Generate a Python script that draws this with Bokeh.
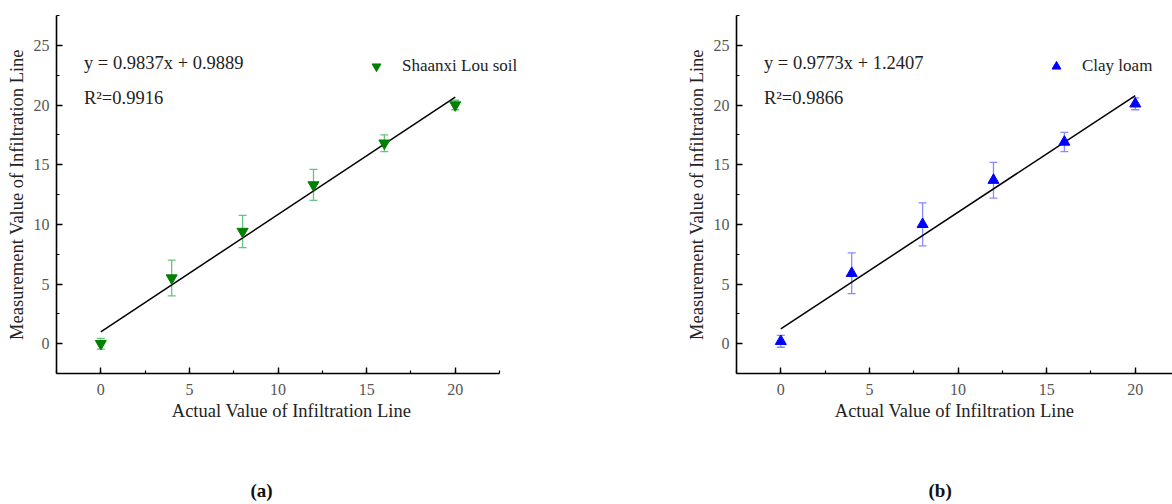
from bokeh.plotting import figure
from bokeh.models import (ColumnDataSource, Whisker, TeeHead, Label, Legend, LegendItem,
                          SingleIntervalTicker, Range1d, Title)
from bokeh.layouts import row
from bokeh.embed import file_html
from bokeh.resources import INLINE

# ---------------- data ----------------
actual = [0, 4, 8, 12, 16, 20]

lou_mean = [0.0, 5.5, 9.4, 13.3, 16.8, 20.0]
lou_err = [0.45, 1.5, 1.35, 1.3, 0.7, 0.4]
lou_fit_x = [0, 20]
lou_fit_y = [0.99, 20.66]
lou_eq = "y = 0.9837x + 0.9889"
lou_r2 = "R\u00b2=0.9916"
lou_name = "Shaanxi Lou soil"

clay_mean = [0.2, 5.9, 10.0, 13.7, 16.9, 20.1]
clay_err = [0.5, 1.7, 1.8, 1.5, 0.8, 0.5]
clay_fit_x = [0, 20]
clay_fit_y = [1.24, 20.79]
clay_eq = "y = 0.9773x + 1.2407"
clay_r2 = "R\u00b2=0.9866"
clay_name = "Clay loam"

x_label = "Actual Value of Infiltration Line"
y_label = "Measurement Value of Infiltration Line"

SERIF = "Liberation Serif"


def make_panel(mean, err, fit_x, fit_y, eq, r2, name, marker, color, err_color,
               caption, caption_offset, frame_w, x_end, border_right):
    p = figure(frame_width=frame_w, frame_height=358,
               x_range=Range1d(-2.5, x_end), y_range=Range1d(-2.5, 27.5),
               output_backend="svg", toolbar_location=None,
               min_border_left=56, min_border_right=border_right,
               min_border_top=15, min_border_bottom=128)
    p.outline_line_color = None
    p.xgrid.visible = False
    p.ygrid.visible = False
    p.background_fill_color = "white"
    p.border_fill_color = "white"

    for ax in (p.xaxis[0], p.yaxis[0]):
        ax.ticker = SingleIntervalTicker(interval=5, num_minor_ticks=2)
        ax.axis_line_width = 1.6
        ax.axis_line_color = "black"
        ax.major_tick_in = 6
        ax.major_tick_out = 0
        ax.minor_tick_in = 3
        ax.minor_tick_out = 0
        ax.major_tick_line_width = 1.4
        ax.minor_tick_line_width = 1.2
        ax.major_label_text_font = SERIF
        ax.major_label_text_font_size = "16px"
        ax.major_label_text_color = "#555555"
        ax.axis_label_text_font = SERIF
        ax.axis_label_text_font_size = "18.5px"
        ax.axis_label_text_font_style = "normal"
        ax.axis_label_text_color = "#222222"
    p.xaxis[0].axis_label = x_label
    p.yaxis[0].axis_label = y_label
    p.xaxis[0].bounds = (-2.5, 22.5)
    p.xaxis[0].major_label_standoff = 10
    p.xaxis[0].axis_label_standoff = 3
    p.yaxis[0].major_label_standoff = 7
    p.yaxis[0].axis_label_standoff = 4

    upper = [m + e for m, e in zip(mean, err)]
    lower = [m - e for m, e in zip(mean, err)]
    src = ColumnDataSource(dict(x=actual, y=mean, upper=upper, lower=lower))

    w = Whisker(base="x", upper="upper", lower="lower", source=src,
                line_color=err_color, line_width=1.3,
                upper_head=TeeHead(size=8, line_color=err_color, line_width=1.3),
                lower_head=TeeHead(size=8, line_color=err_color, line_width=1.3))
    p.add_layout(w)

    p.line(fit_x, fit_y, line_color="black", line_width=1.5)

    r = p.scatter("x", "y", source=src, marker=marker, size=11,
                  fill_color=color, line_color=color)

    legend = Legend(items=[LegendItem(label=name, renderers=[r])],
                    location=(309, 296), orientation="vertical")
    legend.padding = 0
    legend.margin = 0
    legend.spacing = 0
    legend.glyph_width = 22
    legend.glyph_height = 22
    legend.label_height = 22
    legend.label_standoff = 15
    legend.label_text_font = SERIF
    legend.label_text_font_size = "17px"
    legend.label_text_color = "#222222"
    legend.label_text_baseline = "middle"
    legend.border_line_alpha = 0
    legend.background_fill_alpha = 0
    p.add_layout(legend, "center")

    p.add_layout(Label(x=-0.95, y=23.5, text=eq, text_font=SERIF,
                       text_font_size="18.5px", text_color="#222222",
                       text_baseline="middle", text_align="left"))
    p.add_layout(Label(x=-0.95, y=20.6, text=r2, text_font=SERIF,
                       text_font_size="18.5px", text_color="#222222",
                       text_baseline="middle", text_align="left"))

    t = Title(text=caption, align="left", offset=caption_offset, standoff=109,
              text_font=SERIF, text_font_size="19px", text_font_style="bold",
              text_color="#111111")
    p.add_layout(t, "below")
    return p


pa = make_panel(lou_mean, lou_err, lou_fit_x, lou_fit_y, lou_eq, lou_r2, lou_name,
                "inverted_triangle", "#008000", "#66c47e", "(a)", 194,
                470, 24.02, 154)
pb = make_panel(clay_mean, clay_err, clay_fit_x, clay_fit_y, clay_eq, clay_r2, clay_name,
                "triangle", "#0000ff", "#8a8aff", "(b)", 192,
                436, 22.1, 0)

layout = row(pa, pb, spacing=0)

open("out.html", "w").write(file_html(layout, INLINE))
